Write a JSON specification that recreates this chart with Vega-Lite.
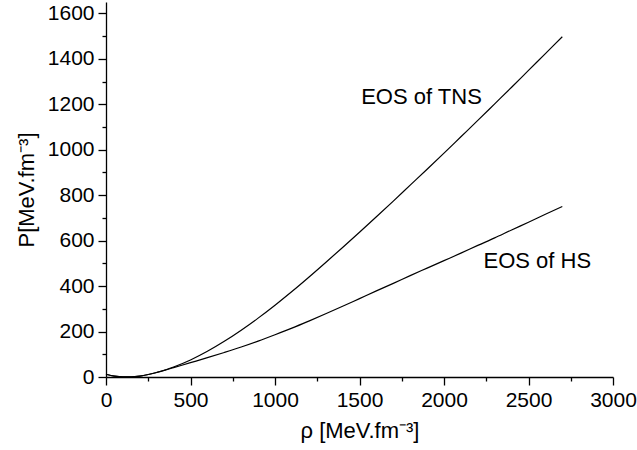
{
  "$schema": "https://vega.github.io/schema/vega-lite/v6.json",
  "width": 507,
  "height": 375,
  "autosize": {"type": "none"},
  "padding": {"left": 106, "top": 2, "right": 24, "bottom": 73},
  "background": "white",
  "config": {
    "view": {"stroke": null},
    "font": "Liberation Sans",
    "axis": {
      "grid": false,
      "domainColor": "black",
      "domainWidth": 1.3,
      "tickColor": "black",
      "tickWidth": 1.3,
      "labelColor": "black",
      "titleColor": "black",
      "labelFont": "Liberation Sans",
      "titleFont": "Liberation Sans",
      "labelFontSize": 21,
      "titleFontSize": 22,
      "titleFontWeight": "normal",
      "format": "d"
    }
  },
  "datasets": {
    "curves": [
      {"series": "TNS", "rho": 0, "P": 12},
      {"series": "TNS", "rho": 50, "P": 4},
      {"series": "TNS", "rho": 100, "P": 0.5},
      {"series": "TNS", "rho": 150, "P": 0.5},
      {"series": "TNS", "rho": 200, "P": 4},
      {"series": "TNS", "rho": 250, "P": 11},
      {"series": "TNS", "rho": 300, "P": 20},
      {"series": "TNS", "rho": 350, "P": 31},
      {"series": "TNS", "rho": 400, "P": 44},
      {"series": "TNS", "rho": 500, "P": 75},
      {"series": "TNS", "rho": 600, "P": 113},
      {"series": "TNS", "rho": 700, "P": 157},
      {"series": "TNS", "rho": 800, "P": 206},
      {"series": "TNS", "rho": 900, "P": 259},
      {"series": "TNS", "rho": 1000, "P": 316},
      {"series": "TNS", "rho": 1100, "P": 376},
      {"series": "TNS", "rho": 1200, "P": 439},
      {"series": "TNS", "rho": 1300, "P": 504},
      {"series": "TNS", "rho": 1400, "P": 570},
      {"series": "TNS", "rho": 1500, "P": 637},
      {"series": "TNS", "rho": 1600, "P": 705},
      {"series": "TNS", "rho": 1700, "P": 774},
      {"series": "TNS", "rho": 1800, "P": 844},
      {"series": "TNS", "rho": 1900, "P": 914},
      {"series": "TNS", "rho": 2000, "P": 985},
      {"series": "TNS", "rho": 2100, "P": 1057},
      {"series": "TNS", "rho": 2200, "P": 1129},
      {"series": "TNS", "rho": 2300, "P": 1202},
      {"series": "TNS", "rho": 2400, "P": 1275},
      {"series": "TNS", "rho": 2500, "P": 1349},
      {"series": "TNS", "rho": 2600, "P": 1423},
      {"series": "TNS", "rho": 2700, "P": 1497},
      {"series": "HS", "rho": 0, "P": 12},
      {"series": "HS", "rho": 50, "P": 4},
      {"series": "HS", "rho": 100, "P": 0.5},
      {"series": "HS", "rho": 150, "P": 0.5},
      {"series": "HS", "rho": 200, "P": 4},
      {"series": "HS", "rho": 250, "P": 11},
      {"series": "HS", "rho": 300, "P": 20},
      {"series": "HS", "rho": 350, "P": 30},
      {"series": "HS", "rho": 400, "P": 41},
      {"series": "HS", "rho": 500, "P": 63},
      {"series": "HS", "rho": 600, "P": 85},
      {"series": "HS", "rho": 700, "P": 108},
      {"series": "HS", "rho": 800, "P": 132},
      {"series": "HS", "rho": 900, "P": 158},
      {"series": "HS", "rho": 1000, "P": 186},
      {"series": "HS", "rho": 1100, "P": 215},
      {"series": "HS", "rho": 1200, "P": 246},
      {"series": "HS", "rho": 1300, "P": 278},
      {"series": "HS", "rho": 1400, "P": 311},
      {"series": "HS", "rho": 1500, "P": 345},
      {"series": "HS", "rho": 1600, "P": 379},
      {"series": "HS", "rho": 1700, "P": 412},
      {"series": "HS", "rho": 1800, "P": 446},
      {"series": "HS", "rho": 1900, "P": 479},
      {"series": "HS", "rho": 2000, "P": 512},
      {"series": "HS", "rho": 2100, "P": 545},
      {"series": "HS", "rho": 2200, "P": 579},
      {"series": "HS", "rho": 2300, "P": 612},
      {"series": "HS", "rho": 2400, "P": 647},
      {"series": "HS", "rho": 2500, "P": 681},
      {"series": "HS", "rho": 2600, "P": 716},
      {"series": "HS", "rho": 2700, "P": 750}
    ],
    "labels": [
      {"label": "EOS of TNS", "rho": 1510, "P": 1202},
      {"label": "EOS of HS", "rho": 2234, "P": 479}
    ]
  },
  "resolve": {"axis": {"x": "independent", "y": "independent"}},
  "layer": [
    {
      "data": {"name": "curves"},
      "mark": {"type": "line", "color": "black", "strokeWidth": 1.2, "interpolate": "monotone"},
      "encoding": {
        "x": {
          "field": "rho", "type": "quantitative",
          "scale": {"domain": [0, 3000], "nice": false, "zero": false},
          "axis": {
            "orient": "bottom",
            "values": [0, 500, 1000, 1500, 2000, 2500, 3000],
            "tickSize": 8,
            "labelPadding": 4,
            "title": "ρ [MeV.fm⁻³]",
            "titlePadding": 10,
            "labelFlush": false
          }
        },
        "y": {
          "field": "P", "type": "quantitative",
          "scale": {"domain": [0, 1650], "nice": false, "zero": false},
          "axis": {
            "orient": "left",
            "values": [0, 200, 400, 600, 800, 1000, 1200, 1400, 1600],
            "tickSize": 8,
            "labelPadding": 4,
            "title": "P[MeV.fm⁻³]",
            "titlePadding": 9,
            "labelFlush": false
          }
        },
        "detail": {"field": "series", "type": "nominal"}
      }
    },
    {
      "data": {"name": "labels"},
      "mark": {"type": "text", "align": "left", "baseline": "alphabetic", "fontSize": 22, "font": "Liberation Sans", "color": "black"},
      "encoding": {
        "x": {
          "field": "rho", "type": "quantitative",
          "axis": {
            "orient": "bottom",
            "values": [250, 750, 1250, 1750, 2250, 2750],
            "tickSize": 4,
            "labels": false,
            "domain": false,
            "title": null
          }
        },
        "y": {
          "field": "P", "type": "quantitative",
          "axis": {
            "orient": "left",
            "values": [100, 300, 500, 700, 900, 1100, 1300, 1500],
            "tickSize": 4,
            "labels": false,
            "domain": false,
            "title": null
          }
        },
        "text": {"field": "label", "type": "nominal"}
      }
    }
  ]
}
